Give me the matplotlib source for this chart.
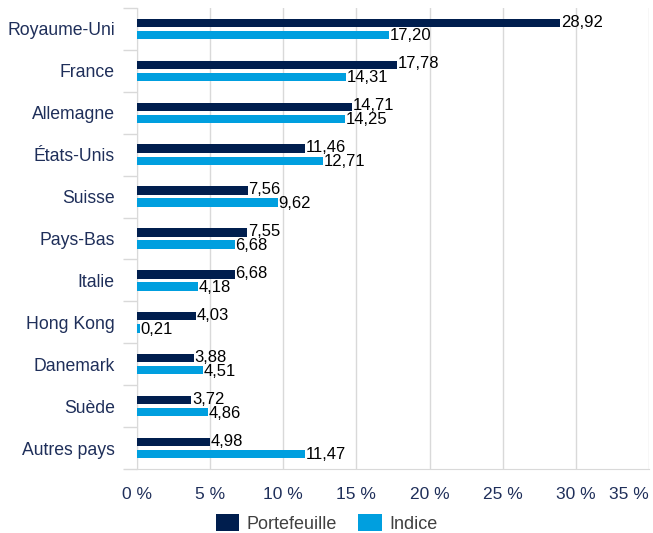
import numpy as np
import matplotlib.pyplot as plt

plt.rcParams["font.family"] = ["Liberation Sans", "DejaVu Sans"]

# données
pays = ["Royaume-Uni", "France", "Allemagne", "États-Unis", "Suisse", "Pays-Bas",
        "Italie", "Hong Kong", "Danemark", "Suède", "Autres pays"]
portefeuille = [28.92, 17.78, 14.71, 11.46, 7.56, 7.55, 6.68, 4.03, 3.88, 3.72, 4.98]
indice = [17.20, 14.31, 14.25, 12.71, 9.62, 6.68, 4.18, 0.21, 4.51, 4.86, 11.47]
xticks = [0, 5, 10, 15, 20, 25, 30, 35]

navy = "#001E4E"
bleu = "#009FDF"
gris = "#D9D9D9"
texte = "#1F2F5A"

fig = plt.figure(figsize=(6.53, 5.33), dpi=100)
ax = fig.add_axes([137 / 653, 1 - 469 / 533, 512 / 653, 461 / 533])

y = np.arange(len(pays))
h = 0.2
off = 0.145

b1 = ax.barh(y - off, portefeuille, height=h, color=navy, label="Portefeuille", zorder=3)
b2 = ax.barh(y + off, indice, height=h, color=bleu, label="Indice", zorder=3)

for v, yy in zip(portefeuille, y - off):
    ax.text(v + 0.05, yy - 0.02, f"{v:.2f}".replace(".", ","), va="center", ha="left",
            fontsize=12, color="black", zorder=4)
for v, yy in zip(indice, y + off):
    ax.text(v + 0.05, yy + 0.02, f"{v:.2f}".replace(".", ","), va="center", ha="left",
            fontsize=12, color="black", zorder=4)

ax.set_xlim(0, 35)
ax.set_ylim(len(pays) - 0.5, -0.5)

# axe x
ax.set_xticks(xticks)
ax.set_xticklabels([f"{t} %" for t in xticks], fontsize=12.5, color=texte)
ax.tick_params(axis="x", length=0, pad=13)
labs = ax.get_xticklabels()
labs[-1].set_horizontalalignment("right")
labs[-1].set_x(35.1)

# axe y : étiquettes au centre, petits traits aux limites
ax.set_yticks(y)
ax.set_yticklabels(pays, fontsize=12.7, color=texte)
ax.tick_params(axis="y", length=0, pad=16)
ax.set_yticks(np.arange(-0.5, len(pays) + 0.5, 1), minor=True)
ax.tick_params(axis="y", which="minor", length=10, color=gris, width=1)

ax.grid(axis="x", color=gris, linewidth=1, zorder=0)
for s in ["top", "right"]:
    ax.spines[s].set_visible(False)
ax.spines["left"].set_color(gris)
ax.spines["bottom"].set_color(gris)

leg = fig.legend(handles=[b1, b2], loc="lower center", bbox_to_anchor=(0.5, -0.03),
                 ncol=2, frameon=False, fontsize=13, handlelength=1.3, handleheight=1.0,
                 columnspacing=1.2, handletextpad=0.4)
for t in leg.get_texts():
    t.set_color("#404040")

fig.savefig("out.png", dpi=100)
